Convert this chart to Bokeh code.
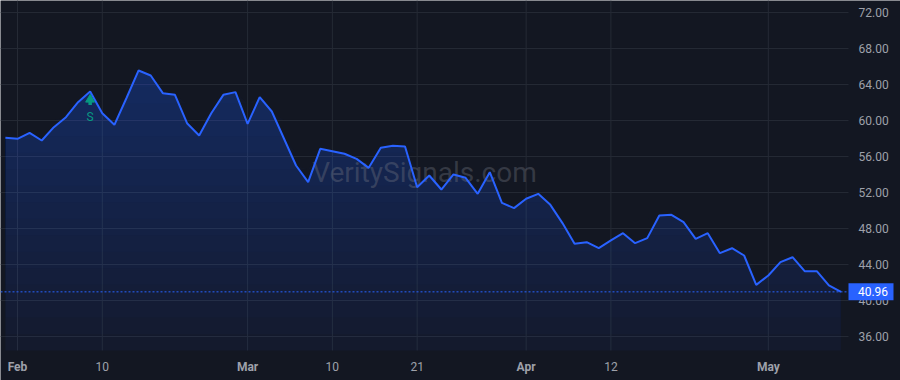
import numpy as np
from bokeh.plotting import figure
from bokeh.models import Range1d
from bokeh.core.properties import value
from bokeh.embed import file_html
from bokeh.resources import INLINE

# ---- data (one value per trading session) ----
values = [58.08, 57.96, 58.63, 57.78, 59.26, 60.37, 62.04, 63.22, 60.81, 59.52,
          62.50, 65.56, 65.00, 63.04, 62.85, 59.70, 58.33, 60.81, 62.85, 63.15,
          59.63, 62.59, 61.00, 58.00, 55.00, 53.15, 56.85, 56.59, 56.30, 55.74,
          54.74, 56.96, 57.19, 57.11, 52.59, 53.89, 52.33, 54.00, 53.63, 51.85,
          54.26, 50.85, 50.26, 51.30, 51.85, 50.63, 48.60, 46.30, 46.48, 45.81,
          46.67, 47.48, 46.37, 46.93, 49.44, 49.52, 48.70, 46.85, 47.48, 45.26,
          45.81, 45.00, 41.74, 42.78, 44.26, 44.81, 43.26, 43.26, 41.67, 40.96]

tick_index = [1, 8, 20, 27, 34, 43, 50, 63]
tick_labels = ["Feb", "10", "Mar", "10", "21", "Apr", "12", "May"]
tick_is_month = [True, False, True, False, False, True, False, True]

y_ticks = [36, 40, 44, 48, 52, 56, 60, 64, 68, 72]
last_price = 40.96
signal_index = 7
signal_text = "S"
watermark = "VeritySignals.com"

# ---- styling ----
BG = "#131722"
GRID = "#252a35"
LINE = "#2962ff"
TEXT = "#9ea1aa"
TEAL = "#089981"
FONT = "Roboto"

W, H = 900, 380           # canvas
PW, PH = 848, 350         # plotting pane inside the canvas
px_start, px_end = -0.404, 69.62     # data x range of the pane
py_start, py_end = 34.444, 73.333    # data y range of the pane
sx = PW / (px_end - px_start)        # pixels per x unit
sy = PH / (py_end - py_start)        # pixels per y unit

def X(pix):   # canvas pixel column -> data x
    return px_start + pix / sx

def Y(pix):   # canvas pixel row (from top) -> data y
    return py_end - pix / sy

p = figure(width=W, height=H, output_backend="svg", toolbar_location=None,
           x_range=Range1d(px_start, X(W)), y_range=Range1d(Y(H), py_end),
           x_axis_location=None, y_axis_location=None,
           min_border_left=0, min_border_right=0, min_border_top=0, min_border_bottom=0,
           background_fill_color=BG, border_fill_color=BG, outline_line_color=None)
p.grid.visible = False

v = np.array(values)
x = np.arange(len(v))

# grid lines limited to the pane
p.segment(x0=px_start, x1=px_end, y0=y_ticks, y1=y_ticks, line_color=GRID, line_width=1)
p.segment(x0=tick_index, x1=tick_index, y0=py_start, y1=py_end, line_color=GRID, line_width=1)

# gradient-like area fill (stacked translucent bands)
p.varea(x=x, y1=py_start, y2=v, fill_color=LINE, fill_alpha=0.05)
levels = np.linspace(py_start, v.max(), 18)[1:-1]
for L in levels:
    p.varea(x=x, y1=L, y2=np.maximum(v, L), fill_color=LINE, fill_alpha=0.018)

# watermark
p.text(x=[(px_start + px_end) / 2], y=[54.2], text=[watermark],
       text_align="center", text_baseline="middle",
       text_font=value(FONT), text_font_size="28px",
       text_color="#787b86", text_alpha=0.35)

# last price line
p.segment(x0=[px_start], x1=[px_end], y0=[last_price], y1=[last_price],
          line_color=LINE, line_dash="2 2", line_width=1)

# main line
p.line(x, v, line_color=LINE, line_width=2)

# signal marker (arrow + letter) below the point
sv = values[signal_index]
p.scatter([signal_index], [sv - 8.0 / sy], marker="triangle", size=9,
          fill_color=TEAL, line_color=TEAL)
p.segment(x0=[signal_index], y0=[sv - 10.0 / sy],
          x1=[signal_index], y1=[sv - 13.5 / sy],
          line_color=TEAL, line_width=3.5)
p.text(x=[signal_index], y=[sv - 25.0 / sy], text=[signal_text],
       text_align="center", text_baseline="middle", text_color=TEAL,
       text_font=value(FONT), text_font_size="12px")

# y tick labels (right side)
p.text(x=[X(PW + 10)] * len(y_ticks), y=y_ticks, text=[f"{t:.2f}" for t in y_ticks],
       text_align="left", text_baseline="middle", text_color=TEXT,
       text_font=value(FONT), text_font_size="12px")

# x tick labels (months bold, days normal)
ly = Y(PH + 16)
months = [(t, l) for t, l, m in zip(tick_index, tick_labels, tick_is_month) if m]
days = [(t, l) for t, l, m in zip(tick_index, tick_labels, tick_is_month) if not m]
p.text(x=[t for t, _ in days], y=[ly] * len(days), text=[l for _, l in days],
       text_align="center", text_baseline="middle", text_color=TEXT,
       text_font=value(FONT), text_font_size="12px")
p.text(x=[t for t, _ in months], y=[ly] * len(months), text=[l for _, l in months],
       text_align="center", text_baseline="middle", text_color=TEXT,
       text_font=value(FONT), text_font_size="12px", text_font_style="bold")

# last price tag
p.rect(x=[X(PW + 22.5)], y=[last_price], width=45, height=17,
       width_units="screen", height_units="screen",
       fill_color=LINE, line_color=None)
p.text(x=[X(PW + 24.5)], y=[last_price], text=[f"{last_price:.2f}"],
       text_align="center", text_baseline="middle", text_color="white",
       text_font=value(FONT), text_font_size="12px")

open("out.html", "w").write(file_html(p, INLINE))
